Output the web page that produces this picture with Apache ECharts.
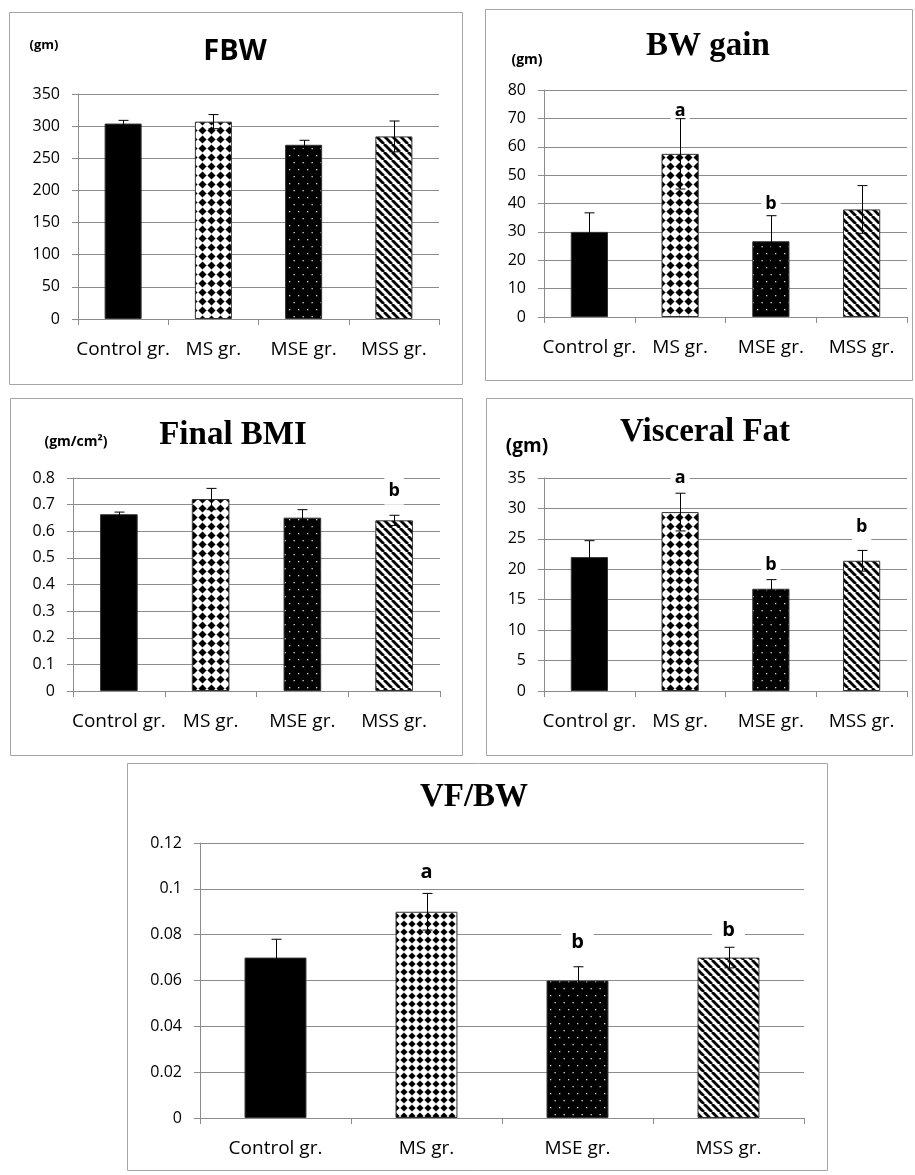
<!DOCTYPE html>
<html>
<head>
<meta charset="utf-8">
<script src="https://cdn.jsdelivr.net/npm/echarts@6/dist/echarts.min.js"></script>
<style>
html,body{margin:0;padding:0;background:#fff;}
#chart{width:915px;height:1175px;}
</style>
</head>
<body>
<div id="chart"></div>
<script>
// ---------- data ----------
const categories = ['Control gr.', 'MS gr.', 'MSE gr.', 'MSS gr.'];

const fbwMean = [304, 307, 271, 284];
const fbwErr  = [5, 11, 7, 24];
const fbwTicks = [0, 50, 100, 150, 200, 250, 300, 350];

const bwgMean = [30, 57.5, 26.7, 37.9];
const bwgErr  = [6.7, 12.4, 9, 8.4];
const bwgTicks = [0, 10, 20, 30, 40, 50, 60, 70, 80];
const bwgLetters = ['', 'a', 'b', ''];
const bwgLetterAt = [null, 72.6, 39.8, null];

const bmiMean = [0.664, 0.721, 0.651, 0.641];
const bmiErr  = [0.008, 0.04, 0.03, 0.019];
const bmiTicks = [0, 0.1, 0.2, 0.3, 0.4, 0.5, 0.6, 0.7, 0.8];
const bmiLetters = ['', '', '', 'b'];
const bmiLetterAt = [null, null, null, 0.752];

const vfMean = [22, 29.4, 16.8, 21.4];
const vfErr  = [2.7, 3.1, 1.5, 1.7];
const vfTicks = [0, 5, 10, 15, 20, 25, 30, 35];
const vfLetters = ['', 'a', 'b', 'b'];
const vfLetterAt = [null, 35, 20.7, 26.9];

const vfbwMean = [0.070, 0.090, 0.060, 0.070];
const vfbwErr  = [0.008, 0.008, 0.006, 0.0045];
const vfbwTicks = [0, 0.02, 0.04, 0.06, 0.08, 0.1, 0.12];
const vfbwLetters = ['', 'a', 'b', 'b'];
const vfbwLetterAt = [null, 0.1072, 0.0766, 0.0821];

// ---------- patterns ----------
function makeDiamonds(step) {
  const c = document.createElement('canvas');
  c.width = step; c.height = step;
  const g = c.getContext('2d');
  g.fillStyle = '#fff'; g.fillRect(0, 0, step, step);
  g.fillStyle = '#000';
  const r = step * 0.45, cx = step / 2, cy = step / 2;
  g.beginPath();
  g.moveTo(cx, cy - r); g.lineTo(cx + r, cy); g.lineTo(cx, cy + r); g.lineTo(cx - r, cy);
  g.closePath(); g.fill();
  return c;
}
function makeDots() {
  const c = document.createElement('canvas');
  c.width = 9; c.height = 14;
  const g = c.getContext('2d');
  g.fillStyle = '#000'; g.fillRect(0, 0, 9, 14);
  g.fillStyle = '#d8d8d8';
  g.fillRect(1, 1, 1.3, 1.3);
  g.fillRect(5.5, 8, 1.3, 1.3);
  return c;
}
function makeStripes(step) {
  const c = document.createElement('canvas');
  c.width = step; c.height = step;
  const g = c.getContext('2d');
  g.fillStyle = '#fff'; g.fillRect(0, 0, step, step);
  g.strokeStyle = '#000'; g.lineWidth = step * 0.36;
  [-step, 0, step].forEach(o => {
    g.beginPath(); g.moveTo(o, 0); g.lineTo(o + step, step); g.stroke();
  });
  return c;
}
function fills(diaStep) {
  return [
    '#000',
    {image: makeDiamonds(diaStep), repeat: 'repeat'},
    {image: makeDots(), repeat: 'repeat'},
    {image: makeStripes(8), repeat: 'repeat'}
  ];
}

// ---------- layout ----------
const grids = [
  {left: 78,  top: 94,  width: 361, height: 225},
  {left: 544, top: 90,  width: 363, height: 227},
  {left: 73,  top: 478, width: 367, height: 213},
  {left: 544, top: 478, width: 363, height: 213},
  {left: 200, top: 843, width: 604, height: 275}
];
const panels = [
  {mean: fbwMean,  err: fbwErr,  ticks: fbwTicks,  letters: null, at: null, dia: 9},
  {mean: bwgMean,  err: bwgErr,  ticks: bwgTicks,  letters: bwgLetters, at: bwgLetterAt, dia: 9},
  {mean: bmiMean,  err: bmiErr,  ticks: bmiTicks,  letters: bmiLetters, at: bmiLetterAt, dia: 9},
  {mean: vfMean,   err: vfErr,   ticks: vfTicks,   letters: vfLetters, at: vfLetterAt, dia: 9},
  {mean: vfbwMean, err: vfbwErr, ticks: vfbwTicks, letters: vfbwLetters, at: vfbwLetterAt, dia: 8}
];

const AX = '#8c8c8c';
const BODY = '"Open Sans", sans-serif';

const xAxis = [], yAxis = [], series = [];
panels.forEach((p, i) => {
  xAxis.push({
    type: 'category', gridIndex: i, data: categories, boundaryGap: true,
    axisLine: {lineStyle: {color: AX, width: 1}},
    axisTick: {show: true, length: 6, lineStyle: {color: AX}},
    axisLabel: {color: '#000', fontFamily: BODY, fontSize: 19, margin: 21, interval: 0}
  });
  const t = p.ticks;
  yAxis.push({
    type: 'value', gridIndex: i, min: t[0], max: t[t.length - 1], interval: t[1] - t[0],
    axisLine: {show: true, lineStyle: {color: AX, width: 1}},
    axisTick: {show: true, length: 6, lineStyle: {color: AX}},
    splitLine: {show: true, lineStyle: {color: AX, width: 1}},
    axisLabel: {color: '#000', fontFamily: BODY, fontSize: 16, margin: 18,
      formatter: v => String(+v.toFixed(3))}
  });
  const f = fills(p.dia);
  series.push({
    type: 'bar', xAxisIndex: i, yAxisIndex: i, barWidth: '41%',
    data: p.mean.map((m, j) => ({value: m, itemStyle: {color: f[j], borderColor: '#333', borderWidth: 1}})),
    animation: false, z: 2
  });
  if (p.letters) {
    const items = [];
    p.letters.forEach((l, j) => { if (l) items.push({value: [j, p.at[j]], letter: l}); });
    series.push({
      type: 'custom', xAxisIndex: i, yAxisIndex: i, animation: false, z: 3,
      data: items.map(d => d.value),
      renderItem: (params, api) => {
        const pt = api.coord([api.value(0), api.value(1)]);
        return {
          type: 'text', x: pt[0], y: pt[1],
          style: {
            text: items[params.dataIndex].letter,
            font: 'bold ' + (i === 4 ? 20 : 18) + 'px "Open Sans", sans-serif',
            fill: '#000', align: 'center', verticalAlign: 'middle',
            backgroundColor: '#fff', padding: i === 4 ? [6, 10] : [5, 4]
          }
        };
      }
    });
  }
  series.push({
    type: 'custom', xAxisIndex: i, yAxisIndex: i, animation: false, z: 4,
    data: p.mean.map((m, j) => [j, m, p.err[j]]),
    renderItem: (params, api) => {
      const j = api.value(0), m = api.value(1), e = api.value(2);
      const top = api.coord([j, m + e]);
      const bot = api.coord([j, m - e]);
      const x = Math.round(top[0]) + 0.5;
      const st = {stroke: '#000', lineWidth: 1};
      return {
        type: 'group', children: [
          {type: 'line', shape: {x1: x, y1: top[1], x2: x, y2: bot[1]}, style: st},
          {type: 'line', shape: {x1: x - 5, y1: top[1], x2: x + 5, y2: top[1]}, style: st},
          {type: 'line', shape: {x1: x - 5, y1: bot[1], x2: x + 5, y2: bot[1]}, style: st}
        ]
      };
    }
  });
});

// ---------- frames & texts ----------
const FRAME = '#a6a6a6';
const frames = [
  [9, 12, 453, 372], [485, 9, 427, 371], [10, 398, 452, 357], [486, 398, 426, 357], [127, 763, 700, 407]
];
const graphic = frames.map(r => ({
  type: 'rect', shape: {x: r[0] + 0.5, y: r[1] + 0.5, width: r[2], height: r[3]},
  style: {fill: 'none', stroke: FRAME, lineWidth: 1}, z: -1, silent: true
}));
const texts = [
  {t: 'FBW', x: 235, y: 52, font: 'bold 29px "Open Sans", sans-serif'},
  {t: 'BW gain', x: 708, y: 46, font: 'bold 33px "Liberation Serif", serif'},
  {t: 'Final BMI', x: 233, y: 435, font: 'bold 33px "Liberation Serif", serif'},
  {t: 'Visceral Fat', x: 705, y: 432, font: 'bold 33px "Liberation Serif", serif'},
  {t: 'VF/BW', x: 474, y: 797, font: 'bold 33px "Liberation Serif", serif'},
  {t: '(gm)', x: 44, y: 45, font: 'bold 13px "Open Sans", sans-serif'},
  {t: '(gm)', x: 527, y: 60, font: 'bold 14px "Open Sans", sans-serif'},
  {t: '(gm/cm²)', x: 76, y: 442, font: 'bold 14px "Open Sans", sans-serif'},
  {t: '(gm)', x: 527, y: 447, font: 'bold 19px "Open Sans", sans-serif'}
];
texts.forEach(d => graphic.push({
  type: 'text', x: d.x, y: d.y, silent: true,
  style: {text: d.t, font: d.font, fill: '#000', align: 'center', verticalAlign: 'middle'}
}));

const chart = echarts.init(document.getElementById('chart'), null, {renderer: 'canvas'});
chart.setOption({
  animation: false,
  backgroundColor: '#fff',
  grid: grids.map(g => Object.assign({containLabel: false}, g)),
  xAxis, yAxis, series, graphic
});
</script>
</body>
</html>
